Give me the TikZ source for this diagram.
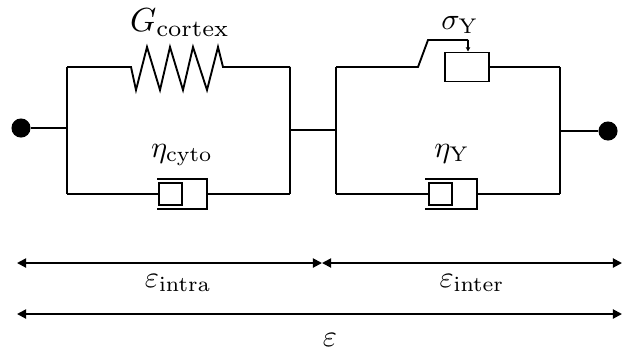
\documentclass[tikz,border=0pt]{standalone}
\usetikzlibrary{arrows.meta}
\begin{document}
\begin{tikzpicture}[x=0.33pt,y=-0.33pt,line width=0.62pt,
  dot/.style={circle,fill=black,inner sep=0pt,minimum size=6.3pt},
  lbl/.style={anchor=base,inner sep=0pt},
  dim/.style={{Triangle[length=3pt,width=3pt]}-{Triangle[length=3pt,width=3pt]}},
  tip/.style={-{Triangle[length=1.4pt,width=1.4pt]}}]
\useasboundingbox (0,0) rectangle (631,351);
% terminals
\node[dot] (dl) at (21,128) {};
\node[dot] (dr) at (608,131) {};
% left Kelvin-Voigt element
\coordinate (l1) at (67,128);
\coordinate (l2) at (290,130);
\draw (dl) -- (l1);
\draw (l1 |- 0,67) -- (l1 |- 0,194);
\draw (l2 |- 0,67) -- (l2 |- 0,194);
\draw (67,67) -- (131,67) -- (136,90) -- (147,47) -- (160,90) -- (170,47) -- (183,90) -- (193,47) -- (207,90) -- (218,47) -- (223,67) -- (290,67);
\node[lbl,scale=1.1] (gc) at (180,31) {$G_{\mathrm{cortex}}$};
% left dashpot
\draw (67,194) -- (159,194);
\draw (159,183) rectangle (182,205);
\draw (157,179) -- (207,179) -- (207,209) -- (157,209);
\draw (207,194) -- (290,194);
\node[lbl] (ec) at (182,157) {$\eta_{\mathrm{cyto}}$};
% connection
\coordinate (r1) at (336,130);
\coordinate (r2) at (560,131);
\draw (l2) -- (r1);
\draw (r1 |- 0,67) -- (r1 |- 0,194);
\draw (r2 |- 0,67) -- (r2 |- 0,194);
\draw (r2) -- (dr);
% slider
\node[draw,minimum width=14.5pt,minimum height=9.6pt,inner sep=0pt] (sl) at (467,67) {};
\draw (336,67) -- (418,67) -- (428,40) -- (468,40);
\draw[tip] (468,40) -- (sl.north -| 468,0);
\draw (sl.east) -- (560,67);
\node[lbl] (sy) at (460,29) {$\sigma_{\mathrm{Y}}$};
% right dashpot
\draw (336,194) -- (429,194);
\draw (429,183) rectangle (452,205);
\draw (425,179) -- (477,179) -- (477,209) -- (425,209);
\draw (477,194) -- (560,194);
\node[lbl] (ey) at (452,157) {$\eta_{\mathrm{Y}}$};
% strain arrows
\coordinate (a1) at (17,263);
\coordinate (a2) at (322,263);
\coordinate (a3) at (622,263);
\coordinate (b1) at (17,314);
\coordinate (b2) at (622,314);
\draw[dim] (a1) -- (a2);
\draw[dim] (a2) -- (a3);
\draw[dim] (b1) -- (b2);
\node[lbl] (ei) at (178,287) {$\varepsilon_{\mathrm{intra}}$};
\node[lbl] (ee) at (472,287) {$\varepsilon_{\mathrm{inter}}$};
\node[lbl] (e) at (330,346) {$\varepsilon$};
\end{tikzpicture}
\end{document}
